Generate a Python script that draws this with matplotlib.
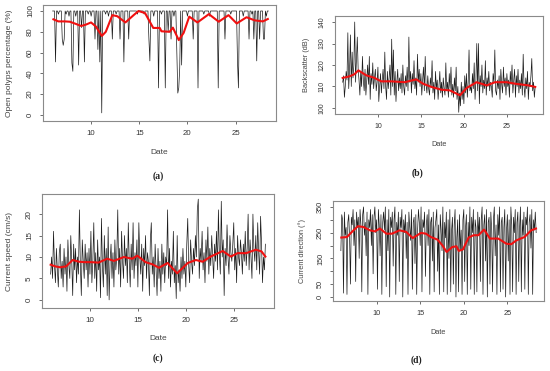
import numpy as np
import matplotlib
matplotlib.use('Agg')
import matplotlib.pyplot as plt

plt.rcParams['font.family'] = ['Liberation Sans', 'DejaVu Sans']

# (a) open polyps percentage, samples every 0.1 day from 6.0 to 28.4
polyps = [
    100, 100, 100, 51, 100, 100, 97, 100, 100, 100,
    73, 67, 73, 100, 97, 100, 100, 95, 100, 100,
    50, 42, 100, 100, 95, 100, 100, 48, 100, 100,
    84, 100, 100, 51, 100, 100, 100, 97, 100, 100,
    95, 100, 100, 100, 73, 100, 100, 63, 100, 51,
    100, 2, 100, 100, 100, 97, 100, 100, 95, 100,
    100, 100, 73, 100, 100, 100, 97, 100, 100, 100,
    73, 100, 100, 100, 51, 100, 100, 100, 100, 73,
    100, 100, 100, 100, 100, 100, 100, 100, 97, 100,
    100, 100, 100, 100, 100, 97, 100, 100, 100, 100,
    73, 52, 100, 100, 100, 95, 100, 100, 100, 100,
    26, 100, 100, 97, 100, 100, 100, 26, 100, 100,
    80, 100, 100, 73, 100, 100, 95, 100, 100, 60,
    21, 26, 45, 100, 48, 100, 100, 100, 100, 100,
    95, 100, 100, 100, 100, 100, 73, 100, 100, 100,
    100, 26, 100, 100, 100, 100, 100, 97, 100, 100,
    100, 100, 100, 95, 100, 100, 100, 100, 100, 100,
    100, 100, 26, 100, 100, 100, 100, 100, 100, 73,
    100, 100, 100, 100, 100, 97, 100, 100, 100, 100,
    100, 100, 52, 26, 100, 100, 100, 100, 95, 100,
    100, 100, 100, 100, 73, 100, 100, 97, 100, 73,
    100, 100, 52, 100, 100, 73, 100, 100, 100, 73,
    73, 100, 95, 100, 100,
]
polyps_smooth_t = [6.08, 6.59, 7.27, 7.78, 8.29, 8.97, 9.48, 9.99, 10.50, 11.11,
                   11.52, 12.20, 12.71, 13.56, 14.41, 14.92, 15.60, 16.45, 17.13,
                   17.30, 18.15, 18.49, 19.10, 19.61, 20.19, 21.04, 22.23, 23.25,
                   24.27, 25.12, 26.14, 26.99, 27.84, 28.35]
polyps_smooth = [92, 90, 90, 89.7, 88, 85.6, 87, 89, 85, 76,
                 80, 96, 95, 89, 96, 100, 98, 83.7, 83.7,
                 80.5, 80, 84, 72, 79, 94.6, 89, 97, 89.7,
                 96, 88, 94, 91, 90, 92.3]

# (b) backscatter, every 0.1 day from 5.9 to 28.3
backscatter = [
    112, 115, 105, 110, 117, 113, 135, 109, 118, 134,
    110, 126, 114, 120, 140, 112, 122, 133, 118, 113,
    106, 117, 110, 124, 113, 108, 118, 106, 113, 120,
    111, 124, 104, 116, 111, 121, 109, 114, 118, 108,
    112, 119, 103, 110, 116, 107, 113, 118, 109, 126,
    110, 104, 117, 109, 114, 120, 106, 132, 110, 127,
    106, 117, 103, 112, 118, 108, 114, 109, 116, 107,
    120, 110, 106, 115, 110, 119, 108, 133, 112, 117,
    107, 116, 111, 122, 109, 114, 106, 125, 112, 118,
    110, 116, 106, 113, 119, 108, 124, 111, 107, 115,
    109, 106, 114, 110, 122, 107, 112, 104, 117, 109,
    113, 104, 110, 117, 107, 112, 105, 114, 109, 106,
    121, 108, 112, 105, 116, 109, 119, 106, 111, 105,
    114, 108, 119, 104, 110, 98, 107, 101, 112, 104,
    110, 102, 115, 107, 116, 105, 112, 127, 108, 110,
    107, 116, 109, 121, 104, 113, 130, 108, 130, 102,
    115, 110, 120, 107, 113, 109, 122, 106, 114, 110,
    117, 108, 112, 110, 105, 116, 112, 127, 108, 106,
    113, 109, 115, 104, 118, 111, 107, 119, 110, 114,
    106, 116, 110, 113, 105, 117, 111, 120, 107, 113,
    118, 105, 115, 110, 118, 107, 113, 109, 116, 106,
    125, 110, 105, 114, 109, 117, 104, 112, 110, 115,
    123, 108, 112, 105, 110,
]
backscatter_smooth_t = [5.9, 6.68, 7.26, 7.73, 8.63, 9.60, 10.38, 11.55, 13.11, 14.47,
                        15.25, 16.22, 17.39, 18.37, 19.54, 20.32, 21.48, 22.65, 23.63,
                        24.99, 25.96, 27.52, 28.30]
backscatter_smooth = [114, 114.7, 115.7, 117.5, 115.2, 114, 112.4, 112.4, 112, 113.3,
                      111.3, 109.8, 108.5, 108.2, 105.9, 109.3, 112, 110.5, 112,
                      112, 111.3, 110.5, 109.8]

# (c) current speed
speed = [
    6, 10, 5, 16, 8, 4, 12, 7, 3, 11,
    13, 5, 9, 3, 12, 6, 10, 2, 14, 8,
    5, 15, 9, 1, 13, 7, 12, 4, 10, 6,
    21, 8, 1, 14, 9, 5, 13, 7, 11, 3,
    12, 6, 16, 4, 9, 18, 5, 11, 2, 14,
    7, 10, 0.5, 19, 8, 3, 15, 6, 12, 1,
    17, 0, 9, 13, 5, 11, 3, 14, 7, 10,
    21, 6, 12, 3, 16, 9, 5, 15, 8, 12,
    4, 18, 9, 3, 13, 7, 18, 5, 11, 8,
    14, 3, 18, 10, 6, 13, 2, 12, 8, 15,
    5, 11, 9, 1, 14, 18, 6, 10, 3, 13,
    7, 1, 12, 5, 9, 2, 13, 6, 11, 4,
    10, 8, 21, 5, 12, 3, 9, 6, 16, 4,
    8, 0.3, 15, 4, 7, 2, 10, 5, 12, 6,
    9, 3, 13, 19, 8, 4, 14, 9, 6, 12,
    8, 15, 10, 21, 23.5, 5, 12, 9, 16, 7,
    11, 4, 14, 9, 17, 6, 12, 8, 15, 10,
    5, 13, 9, 16, 7, 21, 11, 6, 23, 10,
    14, 1, 12, 8, 17.5, 10, 6, 15, 11, 9,
    13, 18, 7, 12, 4, 15, 10, 8, 14, 11,
    6, 13, 9, 16, 8, 12, 20, 7, 14, 10,
    5, 20, 12, 9, 15, 7, 18, 11, 6, 19.5,
    13, 4, 10, 7, 13,
]
speed_smooth_t = [5.9, 6.4, 6.9, 7.5, 8.2, 8.85, 9.4, 10.1, 10.9, 11.8, 12.5, 13.55,
                  14.4, 14.95, 15.8, 16.5, 17.2, 18.1, 19.1, 20.2, 21.05, 21.75, 22.6,
                  23.85, 24.7, 25.4, 26.3, 27.3, 27.9, 28.3]
speed_smooth = [8.2, 7.8, 7.6, 7.8, 9.3, 8.9, 8.8, 8.8, 8.7, 9.6, 9.1, 10.0,
                9.6, 10.3, 8.8, 8.3, 7.5, 8.6, 6.2, 8.6, 9.3, 8.9, 10.1,
                11.4, 10.1, 10.9, 10.9, 11.7, 11.3, 10.1]

# (d) current direction
direction = [
    180, 320, 300, 15, 330, 240, 270, 10, 290, 320,
    230, 50, 310, 280, 340, 200, 300, 60, 330, 270,
    310, 150, 340, 280, 20, 320, 350, 240, 290, 160,
    330, 10, 300, 270, 340, 200, 320, 90, 310, 350,
    250, 300, 30, 340, 280, 160, 320, 10, 290, 330,
    260, 350, 40, 300, 180, 340, 0, 310, 270, 330,
    120, 300, 350, 10, 290, 240, 330, 60, 310, 270,
    340, 0, 300, 250, 320, 150, 290, 10, 330, 270,
    220, 340, 30, 290, 310, 130, 320, 10, 260, 340,
    290, 200, 350, 20, 300, 270, 330, 80, 280, 320,
    200, 340, 10, 290, 310, 140, 330, 20, 270, 300,
    340, 100, 280, 10, 320, 260, 180, 350, 20, 290,
    230, 330, 10, 300, 150, 340, 20, 260, 310, 50,
    280, 340, 0, 230, 300, 20, 320, 180, 260, 10,
    300, 340, 60, 270, 320, 10, 290, 200, 350, 30,
    310, 250, 340, 10, 300, 270, 20, 330, 240, 310,
    60, 300, 350, 10, 280, 320, 140, 340, 0, 290,
    310, 50, 330, 260, 20, 300, 350, 160, 280, 10,
    320, 240, 350, 20, 290, 310, 30, 270, 340, 0,
    260, 320, 140, 300, 10, 350, 280, 20, 310, 250,
    340, 10, 290, 330, 60, 270, 350, 20, 300, 240,
    330, 30, 310, 280, 350, 10, 290, 320, 190, 340,
    10, 300, 260, 330, 250,
]
direction_smooth_t = [5.95, 6.6, 7.17, 7.85, 8.48, 9.24, 9.8, 10.37, 11.13, 11.76,
                      12.63, 13.39, 14.14, 15.09, 15.66, 16.22, 16.98, 17.54, 18.03,
                      18.67, 19.16, 19.42, 19.91, 20.55, 21.12, 21.68, 22.33, 23.0,
                      23.95, 24.89, 25.45, 26.02, 26.97, 27.72, 28.28]
direction_smooth = [231, 233, 253, 275, 272, 259, 255, 266, 246, 246,
                    259, 253, 229, 249, 246, 233, 223, 201, 175,
                    194, 197, 179, 185, 231, 240, 240, 262, 227,
                    227, 207, 205, 220, 233, 259, 266]

t_a = np.linspace(6.0, 28.4, len(polyps))
t = np.linspace(5.9, 28.3, len(backscatter))

fig = plt.figure(figsize=(5.5, 3.71), dpi=100)

panels = [
    # rect, t, y, smooth t, smooth y, ylabel, ylim, yticks, yticklabels,
    # tick size, label size, tag, tag pos, ylabel x, xlabel y
    ([0.0782, 0.6739, 0.4236, 0.3127], t_a, polyps, polyps_smooth_t, polyps_smooth,
     'Open polyps percentage (%)', (-5.8, 105.8), [0, 20, 40, 60, 80, 100], None, 5.6, 6.0,
     '(a)', (158, 176), -0.128, -0.24),
    ([0.609, 0.6927, 0.3782, 0.2642], t, backscatter, backscatter_smooth_t, backscatter_smooth,
     'Backscatter (dB)', (97.2, 142.8), [100, 110, 120, 130, 140], None, 5.0, 5.3,
     '(b)', (417, 173), -0.12, -0.28),
    ([0.0764, 0.1698, 0.4218, 0.3073], t, speed, speed_smooth_t, speed_smooth,
     'Current speed (cm/s)', (-1.9, 24.7), [0, 5, 10, 15, 20], None, 5.8, 6.0,
     '(c)', (158, 358), -0.125, -0.235),
    ([0.6055, 0.1887, 0.3836, 0.2695], t, direction, direction_smooth_t, direction_smooth,
     'Current direction (°)', (-15.6, 373), [0, 50, 100, 150, 200, 250, 300, 350],
     ['0', '50', '', '150', '', '250', '', '350'], 5.3, 5.3,
     '(d)', (416, 360), -0.128, -0.28),
]

for rect, tx, y, st, sy, ylab, ylim, yt, ytl, fs, lfs, tag, tagpos, ylx, xly in panels:
    ax = fig.add_axes(rect)
    ax.plot(tx, y, color='#1c1c1c', lw=0.5)
    ax.plot(st, sy, color='#f01010', lw=1.5)
    ax.set_xlim(5.0, 29.2)
    ax.set_ylim(*ylim)
    ax.set_xticks([10, 15, 20, 25])
    ax.set_yticks(yt)
    if ytl is not None:
        ax.set_yticklabels(ytl)
    for lab in ax.get_yticklabels():
        lab.set_rotation(90)
        lab.set_va('center')
    ax.tick_params(labelsize=fs, colors='#555555', labelcolor='#333333',
                   length=2.5, width=0.6, pad=4)
    for s in ax.spines.values():
        s.set_color('#8a8a8a')
        s.set_linewidth(0.8)
    ax.set_xlabel('Date', fontsize=lfs, color='#444444')
    ax.set_ylabel(ylab, fontsize=lfs, color='#444444')
    ax.xaxis.set_label_coords(0.5, xly)
    ax.yaxis.set_label_coords(ylx, 0.5)
    fig.text(tagpos[0] / 550, 1 - tagpos[1] / 371, tag, ha='center', va='center',
             fontsize=7, fontweight='bold', family='Liberation Serif', color='#222222')

fig.savefig('out.png', dpi=100)
